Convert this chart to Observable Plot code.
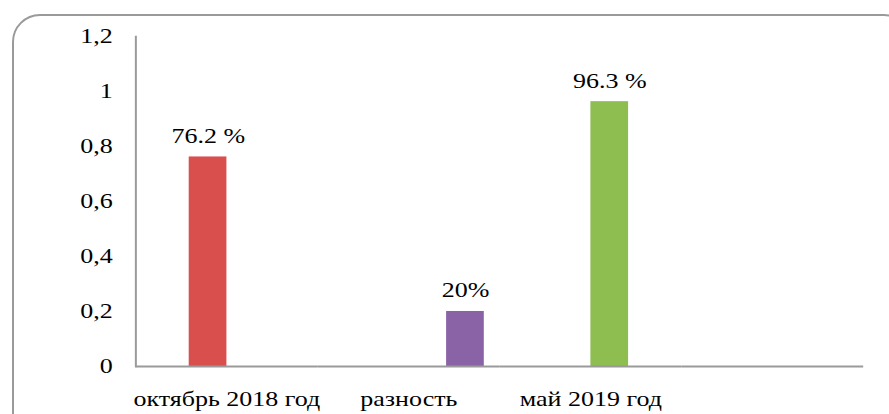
<!DOCTYPE html>
<html>
<head>
<meta charset="utf-8">
<script src="https://cdn.jsdelivr.net/npm/d3@7"></script>
<script src="https://cdn.jsdelivr.net/npm/@observablehq/plot@0.6"></script>
<style>
  html, body { margin: 0; padding: 0; background: #fff; overflow: hidden; }
  #wrap { position: relative; width: 889px; height: 414px; overflow: hidden; }
  #box { position: absolute; left: 12px; top: 14px; width: 900px; height: 430px;
         border: 2px solid #9a9a9a; border-radius: 28px; box-sizing: border-box; }
  #chart { position: absolute; left: 0; top: 0; }
</style>
</head>
<body>
<div id="wrap"><div id="box"></div><div id="chart"></div></div>
<script>
const categories = ["октябрь 2018 год", "разность", "май 2019 год", ""];
const seriesNames = ["ряд1", "ряд2", "ряд3", "ряд4"];
const barCategories = ["октябрь 2018 год", "разность", "май 2019 год"];
const barSeries = ["ряд2", "ряд4", "ряд3"];
const values = [0.762, 0.2, 0.963];
const valueLabels = ["76.2 %", "20%", "96.3 %"];
const colors = ["#d94f4d", "#8a63a6", "#8ebd50"];
const yTicks = [0, 0.2, 0.4, 0.6, 0.8, 1, 1.2];

const data = values.map((v, i) => ({
  category: barCategories[i], series: barSeries[i], value: v,
  label: valueLabels[i], color: colors[i]
}));

const FONT = "'Liberation Serif', 'Times New Roman', serif";
const SX = 1.3; // the reference is stretched horizontally

const chart = Plot.plot({
  width: 889 / SX,
  height: 414,
  marginTop: 36,
  marginBottom: 48,
  marginLeft: 135 / SX,
  marginRight: 26 / SX,
  style: { fontSize: "20px", color: "#000", background: "transparent" },
  fx: { domain: categories, padding: 0, label: null },
  x: { domain: seriesNames, paddingInner: 0, paddingOuter: 0.4, axis: null },
  y: { domain: [0, 1.2], label: null },
  marks: [
    Plot.barY(data, { fx: "category", x: "series", y: "value", fill: "color" }),
    Plot.text(data, { fx: "category", x: "series", y: "value", text: "label", lineAnchor: "bottom", dy: -14, fontSize: 20, fontFamily: FONT }),
    Plot.ruleY(categories, { fx: d => d, y: () => 0, stroke: "#9a9a9a", strokeWidth: 2 }),
    Plot.frame({ anchor: "left", facetAnchor: "left", stroke: "#9a9a9a", strokeWidth: 2 / SX }),
    Plot.axisY({ ticks: yTicks, tickFormat: d => String(d).replace(".", ","), tickSize: 0, tickPadding: 23 / SX, label: null, fontSize: 20, fontFamily: FONT }),
    Plot.axisFx({ anchor: "bottom", tickSize: 0, tickPadding: 25, label: null, fontSize: 20, fontFamily: FONT })
  ]
});
chart.style.fontFamily = FONT;
chart.style.fontSize = "20px";
chart.style.transformOrigin = "0 0";
chart.style.transform = `scaleX(${SX})`;
document.getElementById("chart").appendChild(chart);
</script>
</body>
</html>
